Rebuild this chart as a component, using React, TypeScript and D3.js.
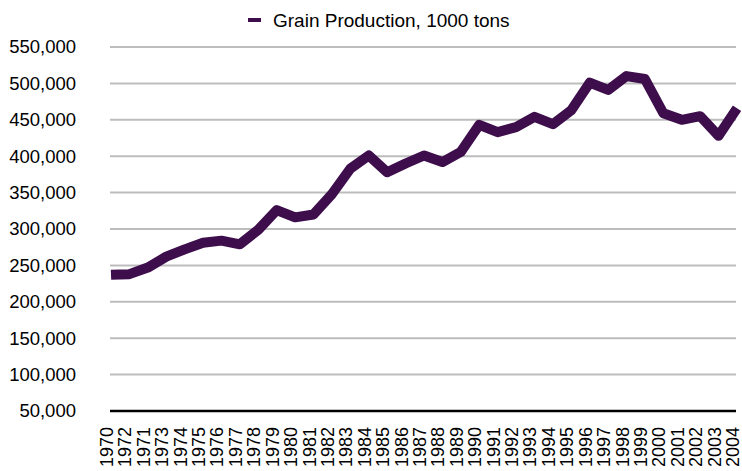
import React, { useEffect, useRef } from 'react';
import * as d3 from 'd3';

// year labels as they appear on the axis (1971/1972 are swapped in the source)
const years = [
  '1970', '1972', '1971', '1973', '1974', '1975', '1976', '1977', '1978', '1979',
  '1980', '1981', '1982', '1983', '1984', '1985', '1986', '1987', '1988', '1989',
  '1990', '1991', '1992', '1993', '1994', '1995', '1996', '1997', '1998', '1999',
  '2000', '2001', '2002', '2003', '2004',
];

const grainProduction = [
  237000, 238000, 247000, 262000, 272000, 281000, 284000, 279000, 299000, 326000,
  316000, 320000, 348000, 383000, 401000, 378000, 390000, 401000, 392000, 406000,
  443000, 433000, 440000, 454000, 444000, 463000, 501000, 491000, 510000, 506000,
  459000, 450000, 455000, 428000, 466000,
];

const yTicks = [50000, 100000, 150000, 200000, 250000, 300000, 350000, 400000, 450000, 500000, 550000];

const seriesName = 'Grain Production, 1000 tons';

const FONT = '"Liberation Sans", Arial, Helvetica, sans-serif';
const LINE_COLOR = '#3d0e4b';

function App() {
  const ref = useRef<SVGSVGElement | null>(null);

  useEffect(() => {
    const width = 742;
    const height = 471;
    const margin = { top: 47, right: 5, bottom: 60, left: 110 };

    const svg = d3.select(ref.current);
    svg.selectAll('*').remove();

    const x = d3.scalePoint<string>()
      .domain(years)
      .range([margin.left + 1, width - margin.right]);

    const y = d3.scaleLinear()
      .domain([50000, 550000])
      .range([height - margin.bottom, margin.top]);

    // gridlines
    svg.append('g')
      .selectAll('line')
      .data(yTicks.filter(t => t !== 50000))
      .join('line')
      .attr('x1', margin.left)
      .attr('x2', width - margin.right - 1)
      .attr('y1', d => y(d))
      .attr('y2', d => y(d))
      .attr('stroke', '#bdbdbd')
      .attr('stroke-width', 2);

    // y tick labels
    const fmt = d3.format(',');
    svg.append('g')
      .selectAll('text')
      .data(yTicks)
      .join('text')
      .attr('x', 76)
      .attr('y', d => y(d))
      .attr('dy', '0.35em')
      .attr('text-anchor', 'end')
      .attr('font-family', FONT)
      .attr('font-size', 18.5)
      .attr('fill', '#000')
      .text(d => fmt(d));

    // base line
    svg.append('line')
      .attr('x1', margin.left)
      .attr('x2', width - margin.right - 1)
      .attr('y1', y(50000))
      .attr('y2', y(50000))
      .attr('stroke', '#000')
      .attr('stroke-width', 2.5);

    // x tick labels, rotated
    svg.append('g')
      .selectAll('text')
      .data(years)
      .join('text')
      .attr('transform', d => `translate(${x(d)! + 2}, ${y(50000) + 16}) rotate(-90)`)
      .attr('text-anchor', 'end')
      .attr('font-family', FONT)
      .attr('font-size', 18)
      .attr('fill', '#000')
      .text(d => d);

    // the series
    const line = d3.line<number>()
      .x((d, i) => x(years[i])!)
      .y(d => y(d));

    svg.append('path')
      .datum(grainProduction)
      .attr('d', line)
      .attr('fill', 'none')
      .attr('stroke', LINE_COLOR)
      .attr('stroke-width', 10)
      .attr('stroke-linejoin', 'round');

    // legend
    const lg = svg.append('g');
    lg.append('line')
      .attr('x1', 248)
      .attr('x2', 261)
      .attr('y1', 20)
      .attr('y2', 20)
      .attr('stroke', LINE_COLOR)
      .attr('stroke-width', 4);
    lg.append('text')
      .attr('x', 273)
      .attr('y', 20)
      .attr('dy', '0.35em')
      .attr('font-family', FONT)
      .attr('font-size', 19)
      .attr('fill', '#000')
      .text(seriesName);
  }, []);

  return (
    <svg
      ref={ref}
      width={742}
      height={471}
      style={{ position: 'absolute', left: 0, top: 0, background: '#fff' }}
    />
  );
}

export default App;
